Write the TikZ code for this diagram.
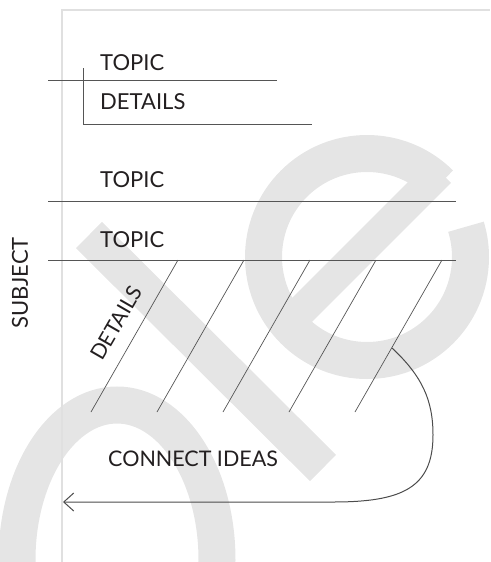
\documentclass[tikz,border=0pt]{standalone}
\usepackage{fontspec}
\setmainfont{Lato}
\usetikzlibrary{arrows.meta}
\definecolor{ink}{HTML}{231F20}
\definecolor{rulegray}{HTML}{555555}
\definecolor{markgray}{HTML}{E5E5E5}

\begin{document}
\begin{tikzpicture}[x=1pt, y=-1pt,
      every node/.style = {inner sep=0pt, text=ink, font=\fontsize{22}{26}\selectfont},
      txt/.style = {anchor=base west},
      rule/.style = {draw=rulegray, line width=0.9pt},
      slash/.style = {draw=rulegray, line width=0.7pt},
      wmark/.style = {draw=markgray, line width=37pt}
      ]
      \useasboundingbox (0,0) rectangle (490,562);
      % watermark
      \begin{scope}
            \clip (0,0) rectangle (490,562);
            \draw[wmark] (17,560) .. controls (17,474) and (62,405) .. (117,405)
                  .. controls (172,405) and (217,474) .. (217,560)
                  .. controls (217,646) and (172,715) .. (117,715)
                  .. controls (62,715) and (17,646) .. (17,560) -- cycle;
            \draw[wmark] (89,235) -- (323,468);
            \draw[wmark] (367,257) ++(-45:103.5) arc[start angle=-45, end angle=-377, radius=103.5];
            \draw[wmark, line width=31pt] (292,320) -- (440,172);
      \end{scope}
      % frame
      \draw[draw=black!12, line width=2pt] (62,562) -- (62,10) -- (490,10);
      % topics
      \coordinate (l1a) at (48,80);   \coordinate (l1b) at (277,80);
      \coordinate (v1a) at (83,68);   \coordinate (v1b) at (83,124);
      \coordinate (l1c) at (312,124);
      \coordinate (l2a) at (48,201);  \coordinate (l2b) at (456,201);
      \coordinate (l3a) at (48,260);  \coordinate (l3b) at (456,260);
      \draw[rule] (l1a) -- (l1b);
      \draw[rule] (v1a) -- (v1b) -- (l1c);
      \draw[rule] (l2a) -- (l2b);
      \draw[rule] (l3a) -- (l3b);
      \node[txt] (topic1) at (100,70) {TOPIC};
      \node[txt] (details1) at (100,109) {DETAILS};
      \node[txt] (topic2) at (100,187) {TOPIC};
      \node[txt] (topic3) at (100,247) {TOPIC};
      \node[rotate=90] (subject) at (20,283) {SUBJECT};
      \foreach \i in {0,...,4} {
            \coordinate (t\i) at (178+66*\i,260);
            \coordinate (b\i) at (91+66*\i,412);
            \draw[slash] (b\i) -- (t\i);
      }
      \node[rotate=60, font=\fontsize{21}{25}\selectfont] (details2) at (116,323) {DETAILS};
      \node[txt, font=\fontsize{21.5}{25}\selectfont] (connect) at (108,466) {CONNECT IDEAS};
      \coordinate (s) at (392,348);
      \coordinate (e) at (63,502);
      \draw[draw=rulegray!90!black, line width=1pt, -{Straight Barb[length=10pt,width=18pt]}]
            (s) .. controls (422,376) and (433,400) .. (433,435)
            .. controls (433,488) and (402,502) .. (333,502) -- (e);
\end{tikzpicture}
\end{document}
